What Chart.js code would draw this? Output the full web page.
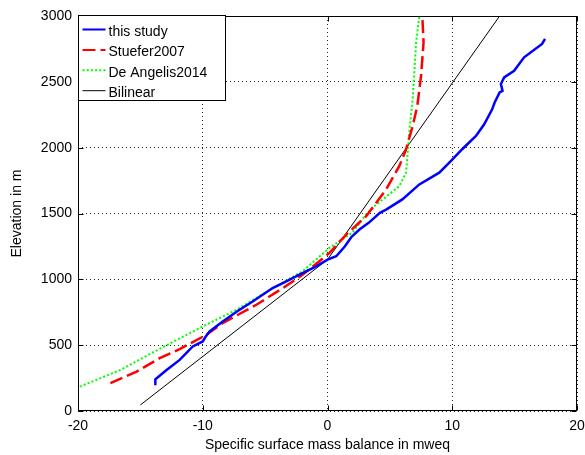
<!DOCTYPE html>
<html><head><meta charset="utf-8">
<script src="https://cdn.jsdelivr.net/npm/chart.js@4.4.1/dist/chart.umd.min.js"></script>
<style>html,body{margin:0;padding:0;background:#fff;overflow:hidden}canvas{display:block}</style>
</head><body>
<canvas id="c" width="585" height="455"></canvas>
<script>
// ---- data ----
const xTicks = [-20, -10, 0, 10, 20];
const yTicks = [0, 500, 1000, 1500, 2000, 2500, 3000];

const studyElev = [195, 240, 312, 388, 490, 528, 560, 604, 680, 760, 832, 934, 985, 1036, 1099, 1150, 1175, 1251, 1320, 1378, 1429, 1505, 1530, 1607, 1721, 1810, 1900, 1988, 2089, 2178, 2292, 2343, 2420, 2432, 2483, 2534, 2584, 2686, 2788, 2826];
const studySmb  = [-13.8, -13.8, -12.9, -11.85, -10.8, -10.0, -9.8, -9.45, -8.4, -7.2, -6.0, -4.4, -3.3, -2.25, -0.9, 0.0, 0.7, 1.4, 1.9, 2.56, 3.3, 4.2, 4.7, 6.0, 7.36, 8.96, 9.9, 10.8, 11.9, 12.56, 13.2, 13.4, 13.8, 14.03, 13.9, 14.16, 14.96, 15.76, 17.2, 17.44];

const stueferElev = [211, 299, 401, 470, 579, 668, 807, 934, 1036, 1201, 1340, 1480, 1683, 1861, 1988, 2165, 2318, 2546, 2800, 3000];
const stueferSmb  = [-17.4, -15.3, -13.45, -11.85, -9.7, -8.4, -5.7, -3.57, -1.97, 0.16, 1.5, 3.1, 4.7, 5.76, 6.3, 6.83, 7.2, 7.5, 7.7, 7.6];

const deAngelisElev = [185, 312, 515, 642, 769, 921, 1061, 1239, 1355, 1493, 1544, 1708, 1810, 1988, 2165, 2369, 2800, 3000];
const deAngelisSmb  = [-19.85, -16.6, -12.6, -10.0, -7.3, -4.6, -2.0, 0.16, 2.0, 3.1, 3.6, 5.76, 6.3, 6.45, 6.6, 6.83, 7.1, 7.36];

const bilinearElev = [46, 1150, 3000];
const bilinearSmb  = [-15.0, 0.0, 13.8];

const seriesLabels = ['this study', 'Stuefer2007', 'De Angelis2014', 'Bilinear'];

// ---- build ----
const pts = (xs, ys) => xs.map((x, i) => ({x: x, y: ys[i]}));
const FONT = 'Liberation Sans, Arial, Helvetica, sans-serif';

const datasets = [
  {label: seriesLabels[0], data: pts(studySmb, studyElev), borderColor: 'rgb(0,0,255)', borderWidth: 2.5, borderDash: []},
  {label: seriesLabels[1], data: pts(stueferSmb, stueferElev), borderColor: 'rgb(255,0,0)', borderWidth: 2.5, borderDash: [13, 5]},
  {label: seriesLabels[2], data: pts(deAngelisSmb, deAngelisElev), borderColor: 'rgb(0,255,0)', borderWidth: 2, borderDash: [2, 2.2]},
  {label: seriesLabels[3], data: pts(bilinearSmb, bilinearElev), borderColor: 'rgb(0,0,0)', borderWidth: 1, borderDash: []}
].map(d => Object.assign(d, {showLine: true, pointRadius: 0, pointHoverRadius: 0, tension: 0, fill: false, borderCapStyle: 'butt'}));

const whiteBg = {
  id: 'whiteBg',
  beforeDraw(chart) {
    const c = chart.ctx; c.save(); c.fillStyle = '#fff'; c.fillRect(0, 0, chart.width, chart.height); c.restore();
  }
};

const frameAndLegend = {
  id: 'frameAndLegend',
  afterDatasetsDraw(chart) {
    const c = chart.ctx, a = chart.chartArea, xs = chart.scales.x, ys = chart.scales.y;
    c.save();
    c.strokeStyle = '#000'; c.lineWidth = 1; c.setLineDash([]);
    const L = Math.round(a.left) + 0.5, R = Math.round(a.right) - 0.5, T = Math.round(a.top) + 0.5, B = Math.round(a.bottom) - 0.5;
    c.strokeRect(L, T, R - L, B - T);
    const tl = 5;
    c.beginPath();
    xs.ticks.forEach(t => {
      const px = Math.round(xs.getPixelForValue(t.value)) + 0.5;
      c.moveTo(px, B); c.lineTo(px, B - tl);
      c.moveTo(px, T); c.lineTo(px, T + tl);
    });
    ys.ticks.forEach(t => {
      const py = Math.round(ys.getPixelForValue(t.value)) + 0.5;
      c.moveTo(L, py); c.lineTo(L + tl, py);
      c.moveTo(R, py); c.lineTo(R - tl, py);
    });
    c.stroke();

    // legend box
    const bx = L, by = T - 1, bw = 147, bh = 85;
    c.fillStyle = '#fff';
    c.fillRect(bx, by, bw, bh);
    c.strokeRect(bx, by, bw, bh);
    c.font = '14px ' + FONT;
    c.textBaseline = 'alphabetic';
    c.textAlign = 'left';
    chart.data.datasets.forEach((d, i) => {
      const ly = by + 14 + i * 20.4;
      c.save();
      c.strokeStyle = d.borderColor;
      c.lineWidth = Math.min(d.borderWidth, 2);
      c.setLineDash(d.borderDash || []);
      c.lineCap = 'butt';
      c.beginPath(); c.moveTo(bx + 4, ly); c.lineTo(bx + 27, ly); c.stroke();
      c.restore();
      c.fillStyle = '#000';
      c.fillText(d.label, bx + 30, ly + 6.5);
    });
    c.restore();
  }
};

new Chart(document.getElementById('c'), {
  type: 'scatter',
  data: {datasets: datasets},
  options: {
    responsive: false,
    animation: false,
    devicePixelRatio: 1,
    layout: {padding: {top: 16, right: 8, left: 0, bottom: 0}},
    plugins: {legend: {display: false}, tooltip: {enabled: false}},
    scales: {
      x: {
        type: 'linear', min: -20, max: 20,
        afterBuildTicks: s => { s.ticks = xTicks.map(v => ({value: v})); },
        afterFit: s => { s.height = 44; s.paddingLeft = 0; s.paddingRight = 0; },
        grid: {color: 'rgba(0,0,0,0.85)', lineWidth: 1, drawTicks: false},
        border: {display: false, dash: [1, 3]},
        ticks: {color: '#000', font: {family: FONT, size: 14}, padding: 7, maxRotation: 0, autoSkip: false, callback: v => String(v)},
        title: {display: true, text: 'Specific surface mass balance in mweq', color: '#000', font: {family: FONT, size: 14}, padding: {top: 0, bottom: 1}}
      },
      y: {
        type: 'linear', min: 0, max: 3000,
        afterBuildTicks: s => { s.ticks = yTicks.map(v => ({value: v})); },
        afterFit: s => { s.width = 78; s.paddingTop = 0; s.paddingBottom = 0; },
        grid: {color: 'rgba(0,0,0,0.85)', lineWidth: 1, drawTicks: false},
        border: {display: false, dash: [1, 3]},
        ticks: {color: '#000', font: {family: FONT, size: 14}, padding: 6, autoSkip: false, callback: v => String(v)},
        title: {display: true, text: 'Elevation in m', color: '#000', font: {family: FONT, size: 14}, padding: {top: 8.5, bottom: 0}}
      }
    }
  },
  plugins: [whiteBg, frameAndLegend]
});
</script>
</body></html>
